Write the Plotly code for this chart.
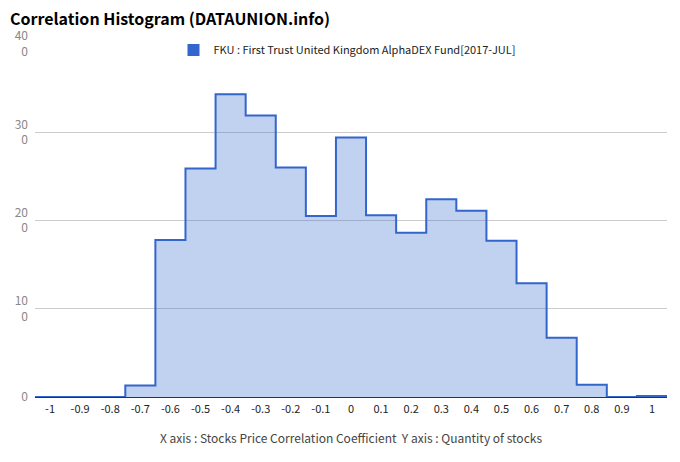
import plotly.graph_objects as go

# bin centres (correlation coefficient) and stock counts
bin_centers = [-1.0, -0.9, -0.8, -0.7, -0.6, -0.5, -0.4, -0.3, -0.2, -0.1,
               0.0, 0.1, 0.2, 0.3, 0.4, 0.5, 0.6, 0.7, 0.8, 0.9, 1.0]
counts = [0, 0, 0, 13, 178, 259, 343, 319, 260, 205,
          294, 206, 186, 224, 211, 177, 129, 67, 14, 0, 1]
bin_width = 0.1

x_ticks = [-1.0, -0.9, -0.8, -0.7, -0.6, -0.5, -0.4, -0.3, -0.2, -0.1,
           0.0, 0.1, 0.2, 0.3, 0.4, 0.5, 0.6, 0.7, 0.8, 0.9, 1.0]
x_ticktext = ['-1', '-0.9', '-0.8', '-0.7', '-0.6', '-0.5', '-0.4', '-0.3', '-0.2', '-0.1',
              '0', '0.1', '0.2', '0.3', '0.4', '0.5', '0.6', '0.7', '0.8', '0.9', '1']
y_ticks = [0, 100, 200, 300, 400]
y_ticktext = ['0', '10<br>0', '20<br>0', '30<br>0', '40<br>0']

series_name = 'FKU : First Trust United Kingdom AlphaDEX Fund[2017-JUL]'
BLUE = '#3366CC'
FONT = 'Noto Sans CJK KR, Noto Sans, sans-serif'

# the page body keeps its default 8px margin, so the figure is sized to fit inside it
W, H = 672, 454

# stepped-area outline: left edge of each bin, plus the final right edge
edges = [c - bin_width / 2 for c in bin_centers] + [bin_centers[-1] + bin_width / 2]
steps = counts + [counts[-1]]

fig = go.Figure()
fig.add_trace(go.Scatter(
    x=edges, y=steps, mode='lines', line_shape='hv',
    line=dict(color=BLUE, width=2),
    fill='tozeroy', fillcolor='rgba(51,102,204,0.3)',
    showlegend=False, hoverinfo='skip',
))
# legend swatch
fig.add_trace(go.Scatter(
    x=[None], y=[None], mode='markers', name=series_name,
    marker=dict(symbol='square', size=12, color=BLUE),
))

fig.update_layout(
    width=W, height=H,
    paper_bgcolor='white', plot_bgcolor='white',
    margin=dict(l=27, r=13, t=36, b=65),
    font=dict(family=FONT, color='#222'),
    title=dict(text='<b>Correlation Histogram (DATAUNION.info)</b>',
               x=2 / W, xanchor='left', y=1 - 11 / H, yanchor='middle',
               font=dict(size=16, color='#000', family=FONT)),
    showlegend=True,
    legend=dict(orientation='h', x=0.5 - 4 / 632, xanchor='center', y=0.983, yanchor='middle',
                bgcolor='rgba(0,0,0,0)', font=dict(size=11, color='#222'),
                itemwidth=30),
    xaxis=dict(range=[edges[0], edges[-1]], tickvals=x_ticks, ticktext=x_ticktext,
               showgrid=False, zeroline=False, showline=False, ticks='',
               automargin=False, ticklabelstandoff=4,
               tickfont=dict(size=11, color='#222'),
               title=dict(text='X axis : Stocks Price Correlation Coefficient  Y axis : Quantity of stocks',
                          font=dict(size=12, color='#444'), standoff=19)),
    yaxis=dict(range=[0, 400], tickvals=y_ticks, ticktext=y_ticktext,
               showgrid=True, gridcolor='#cccccc', gridwidth=1,
               zeroline=True, zerolinecolor='#333333', zerolinewidth=1,
               showline=False, ticks='', ticklabelstandoff=6,
               automargin=False,
               tickfont=dict(size=12, color='#888')),
)

fig.write_html('out.html')
